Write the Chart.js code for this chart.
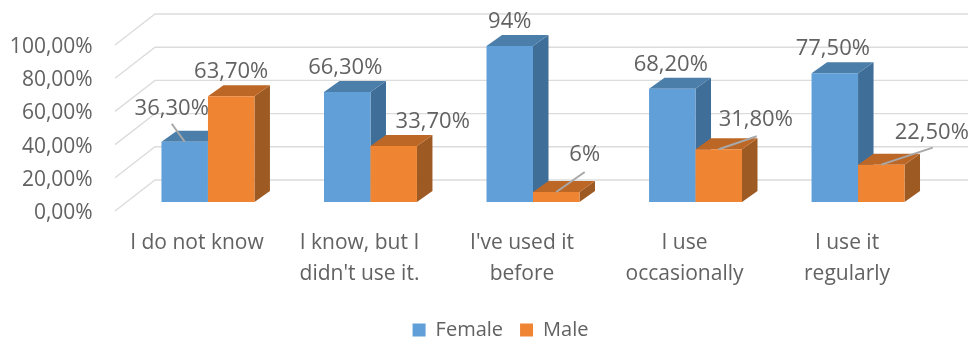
<!DOCTYPE html>
<html>
<head>
<meta charset="utf-8">
<style>body{margin:0;background:#fff}canvas{display:block}</style>
<script src="https://cdn.jsdelivr.net/npm/chart.js@4"></script>
</head>
<body>
<canvas id="c" width="972" height="342"></canvas>
<script>
const categories = ["I do not know", ["I know, but I", "didn't use it."], ["I've used it", "before"], ["I use", "occasionally"], ["I use it", "regularly"]];
const femaleValues = [36.3, 66.3, 94, 68.2, 77.5];
const maleValues = [63.7, 33.7, 6, 31.8, 22.5];
const femaleLabels = ["36,30%", "66,30%", "94%", "68,20%", "77,50%"];
const maleLabels = ["63,70%", "33,70%", "6%", "31,80%", "22,50%"];
const yTicksMax = 100, yTicksStep = 20;

// label offsets from the top centre of each bar, leaders where the label sits away from it
const labelOffsets = [
  [[-13,-33.5],[-2,-24.5],[0,-24.5],[-1.5,-24.5],[-2,-24.5]],
  [[0,-25],[39,-24.5],[28.5,-37.5],[37,-29.5],[50.5,-32]]
];
const leaders = [
  [[-13,-18],null,null,null,null],
  [null,null,[28.5,-20],[38,-13],[51.5,-17]]
];

const FONT = "'Open Sans', sans-serif";
const TEXT = "#626262";
const DX = 15.5, DY = 11;
const faces = [{top:"#4b7ea9", side:"#3f6f99"}, {top:"#bd6726", side:"#9e5a23"}];

function drawFaces(ctx, meta, f){
  ctx.save();
  meta.data.forEach(b=>{
    const l = b.x-b.width/2, r = b.x+b.width/2;
    ctx.fillStyle = f.side;
    ctx.beginPath(); ctx.moveTo(r,b.y); ctx.lineTo(r+DX,b.y-DY); ctx.lineTo(r+DX,b.base-DY); ctx.lineTo(r,b.base); ctx.closePath(); ctx.fill();
    ctx.fillStyle = f.top;
    ctx.beginPath(); ctx.moveTo(l,b.y); ctx.lineTo(l+DX,b.y-DY); ctx.lineTo(r+DX,b.y-DY); ctx.lineTo(r,b.y); ctx.closePath(); ctx.fill();
  });
  ctx.restore();
}

const depthPlugin = {
  id: "depth",
  beforeDatasetsDraw(chart){
    const {ctx, scales:{y}, chartArea:a} = chart;
    ctx.save();
    ctx.strokeStyle = "#dcdcdc"; ctx.lineWidth = 1.4;
    for(let v=0; v<=yTicksMax; v+=yTicksStep){
      const p = y.getPixelForValue(v);
      ctx.beginPath();
      ctx.moveTo(a.left-11.7, p+9);
      ctx.lineTo(a.left+28.3, p-22);
      ctx.lineTo(a.right+28.7, p-22);
      ctx.stroke();
    }
    ctx.restore();
  },
  // chart.js paints dataset 0 last, male has to go over female here
  beforeDatasetDraw(chart, args){
    if(args.index===1) return false;
    drawFaces(chart.ctx, args.meta, faces[0]);
  },
  afterDatasetDraw(chart, args){
    if(args.index!==0) return;
    const male = chart.getDatasetMeta(1);
    drawFaces(chart.ctx, male, faces[1]);
    male.controller.draw();
  },
  afterDatasetsDraw(chart){
    const {ctx} = chart;
    ctx.save();
    [femaleLabels, maleLabels].forEach((texts,s)=>{
      chart.getDatasetMeta(s).data.forEach((b,i)=>{
        const end = leaders[s][i];
        if(end){
          ctx.strokeStyle = "#a8a8a8"; ctx.lineWidth = 2;
          ctx.beginPath(); ctx.moveTo(b.x,b.y); ctx.lineTo(b.x+end[0],b.y+end[1]); ctx.stroke();
        }
        const o = labelOffsets[s][i];
        ctx.fillStyle = TEXT; ctx.font = "22px "+FONT; ctx.textAlign = "center"; ctx.textBaseline = "middle";
        ctx.fillText(texts[i], b.x+o[0], b.y+o[1]);
      });
    });
    ctx.restore();
  },
  afterLayout(chart){
    const l = chart.legend;
    l.top = 303; l.bottom = l.top+l.height;
    l.right = 1001;
  }
};

new Chart(document.getElementById("c"), {
  type: "bar",
  data: {
    labels: categories,
    datasets: [
      {label:"Female", data:femaleValues, backgroundColor:"#609fd7"},
      {label:"Male", data:maleValues, backgroundColor:"#ef8433"}
    ]
  },
  plugins: [depthPlugin],
  options: {
    responsive: false,
    animation: false,
    layout: {autoPadding:false, padding:{top:36, left:0, right:32.7, bottom:0}},
    datasets: {bar:{categoryPercentage:0.572, barPercentage:1, borderWidth:0}},
    plugins: {
      tooltip: {enabled:false},
      legend: {
        position: "bottom",
        labels: {boxWidth:13, boxHeight:13, padding:17, color:TEXT, font:{family:FONT, size:20}}
      }
    },
    scales: {
      x: {
        grid: {display:false, drawTicks:false},
        border: {display:false},
        afterFit: s=>{ s.height = 140-s.chart.legend.height; s.paddingLeft = 0; s.paddingRight = 0; },
        ticks: {color:TEXT, padding:26, labelOffset:-11, maxRotation:0, autoSkip:false, font:{family:FONT, size:21, lineHeight:1.45}}
      },
      y: {
        min: 0, max: yTicksMax,
        grid: {display:false, drawTicks:false},
        border: {display:false},
        afterFit: s=>{ s.width = 126.7; s.paddingTop = 0; s.paddingBottom = 0; },
        ticks: {color:TEXT, stepSize:yTicksStep, padding:34, labelOffset:11, font:{family:FONT, size:21},
          callback: v=>v.toFixed(2).replace(".",",")+"%"}
      }
    }
  }
});
</script>
</body>
</html>
